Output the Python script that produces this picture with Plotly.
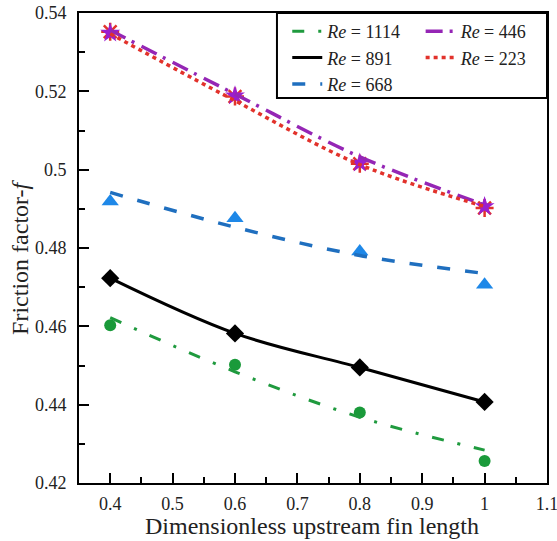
import plotly.graph_objects as go

# Data
x_vals = [0.4, 0.6, 0.8, 1.0]

re1114_pts = [0.4603, 0.4502, 0.4380, 0.4256]
re1114_fit = [0.4622, 0.4484, 0.4368, 0.4284]

re891_pts = [0.4723, 0.4582, 0.4495, 0.4407]
re891_fit = [0.4723, 0.4582, 0.4495, 0.4407]

re668_pts = [0.4919, 0.4876, 0.4791, 0.4706]
re668_fit = [0.4942, 0.4853, 0.4781, 0.4735]

re446_pts = [0.5349, 0.5189, 0.5017, 0.4906]
re446_fit = [0.5356, 0.5193, 0.5033, 0.4910]

re223_pts = [0.5352, 0.5187, 0.5015, 0.4902]
re223_fit = [0.5347, 0.5176, 0.5013, 0.4906]

x_ticks = [0.4, 0.5, 0.6, 0.7, 0.8, 0.9, 1.0, 1.1]
x_ticktext = ["0.4", "0.5", "0.6", "0.7", "0.8", "0.9", "1", "1.1"]
y_ticks = [0.42, 0.44, 0.46, 0.48, 0.50, 0.52, 0.54]
y_ticktext = ["0.42", "0.44", "0.46", "0.48", "0.5", "0.52", "0.54"]

x_title = "Dimensionless upstream fin length"
y_title = "Friction factor-<i>f</i>"

FONT = "Liberation Serif"

GREEN = "#1f9a3e"
GREEN_M = "#1a9a3a"
BLACK = "#000000"
BLUE_L = "#1f6fbf"
BLUE_M = "#1e88e8"
PURPLE = "#9526b5"
PURPLE_M = "#9a1ed0"
RED = "#e2322b"

fig = go.Figure()

# marker traces (no legend)
fig.add_trace(go.Scatter(x=x_vals, y=re223_pts, mode="markers", showlegend=False,
                         marker=dict(symbol="asterisk-open", size=15, color=RED,
                                     line=dict(color=RED, width=2.5))))
fig.add_trace(go.Scatter(x=x_vals, y=re446_pts, mode="markers", showlegend=False,
                         marker=dict(symbol="star", size=15, color=PURPLE_M,
                                     line=dict(width=0))))
fig.add_trace(go.Scatter(x=x_vals, y=re668_pts, mode="markers", showlegend=False,
                         marker=dict(symbol="triangle-up", size=15, color=BLUE_M,
                                     line=dict(width=0))))
fig.add_trace(go.Scatter(x=x_vals, y=re891_pts, mode="markers", showlegend=False,
                         marker=dict(symbol="diamond", size=14, color=BLACK,
                                     line=dict(width=0))))
fig.add_trace(go.Scatter(x=x_vals, y=re1114_pts, mode="markers", showlegend=False,
                         marker=dict(symbol="circle", size=12, color=GREEN_M,
                                     line=dict(width=0))))

# fitted lines with legends
fig.add_trace(go.Scatter(x=x_vals, y=re1114_fit, mode="lines", name="<i>Re</i> = 1114",
                         line=dict(color=GREEN, width=3, dash="12px,14px,3px,14px", shape="spline"),
                         legend="legend"))
fig.add_trace(go.Scatter(x=x_vals, y=re891_fit, mode="lines", name="<i>Re</i> = 891",
                         line=dict(color=BLACK, width=3, shape="spline"),
                         legend="legend"))
fig.add_trace(go.Scatter(x=x_vals, y=re668_fit, mode="lines", name="<i>Re</i> = 668",
                         line=dict(color=BLUE_L, width=3.5, dash="13px,15px", shape="spline"),
                         legend="legend"))
fig.add_trace(go.Scatter(x=x_vals, y=re446_fit, mode="lines", name="<i>Re</i> = 446",
                         line=dict(color=PURPLE, width=3.5, dash="17px,7px,3px,8px", shape="spline"),
                         legend="legend2"))
fig.add_trace(go.Scatter(x=x_vals, y=re223_fit, mode="lines", name="<i>Re</i> = 223",
                         line=dict(color=RED, width=3.5, dash="4px,4px", shape="spline"),
                         legend="legend2"))

axis_common = dict(
    showgrid=False, zeroline=False, automargin=False,
    showline=True, linecolor="black", linewidth=2, mirror=True,
    ticks="inside", ticklen=10, tickwidth=2, tickcolor="black",
    tickfont=dict(family=FONT, size=18, color="#222222"),
    ticklabeloverflow="allow",
)

fig.update_xaxes(
    range=[0.35, 1.1], tickvals=x_ticks, ticktext=x_ticktext,
    minor=dict(dtick=0.05, tick0=0.35, ticks="inside", ticklen=6, tickwidth=2, tickcolor="black"),
    ticklabelstandoff=3,
    **axis_common,
)
fig.update_yaxes(
    range=[0.42, 0.54], tickvals=y_ticks, ticktext=y_ticktext,
    minor=dict(dtick=0.01, tick0=0.42, ticks="inside", ticklen=6, tickwidth=2, tickcolor="black"),
    ticklabelstandoff=7,
    **axis_common,
)

title_font = dict(family=FONT, size=24, color="#222222")
legend_font = dict(family=FONT, size=18, color="#222222")
fig.update_layout(
    width=557, height=541,
    margin=dict(l=79, r=10, t=13, b=58),
    paper_bgcolor="white", plot_bgcolor="white",
    legend=dict(x=0.445, y=1.0, xanchor="left", yanchor="top", bgcolor="rgba(0,0,0,0)",
                borderwidth=0, font=legend_font, tracegroupgap=0),
    legend2=dict(x=0.73, y=1.0, xanchor="left", yanchor="top", bgcolor="rgba(0,0,0,0)",
                 borderwidth=0, font=legend_font, tracegroupgap=0),
    shapes=[dict(type="rect", xref="paper", yref="paper", x0=0.423, x1=1.0, y0=0.819, y1=1.0,
                 line=dict(color="black", width=2), fillcolor="white", layer="below")],
    annotations=[
        dict(text=x_title, xref="paper", yref="paper", x=0.498, y=-0.0915,
             xanchor="center", yanchor="middle", showarrow=False, font=title_font),
        dict(text=y_title, xref="paper", yref="paper", x=-0.126, y=0.479, textangle=-90,
             xanchor="center", yanchor="middle", showarrow=False, font=title_font),
    ],
)

fig.write_html("out.html", config={"displayModeBar": False},
               post_script="document.body.style.margin='0';")
